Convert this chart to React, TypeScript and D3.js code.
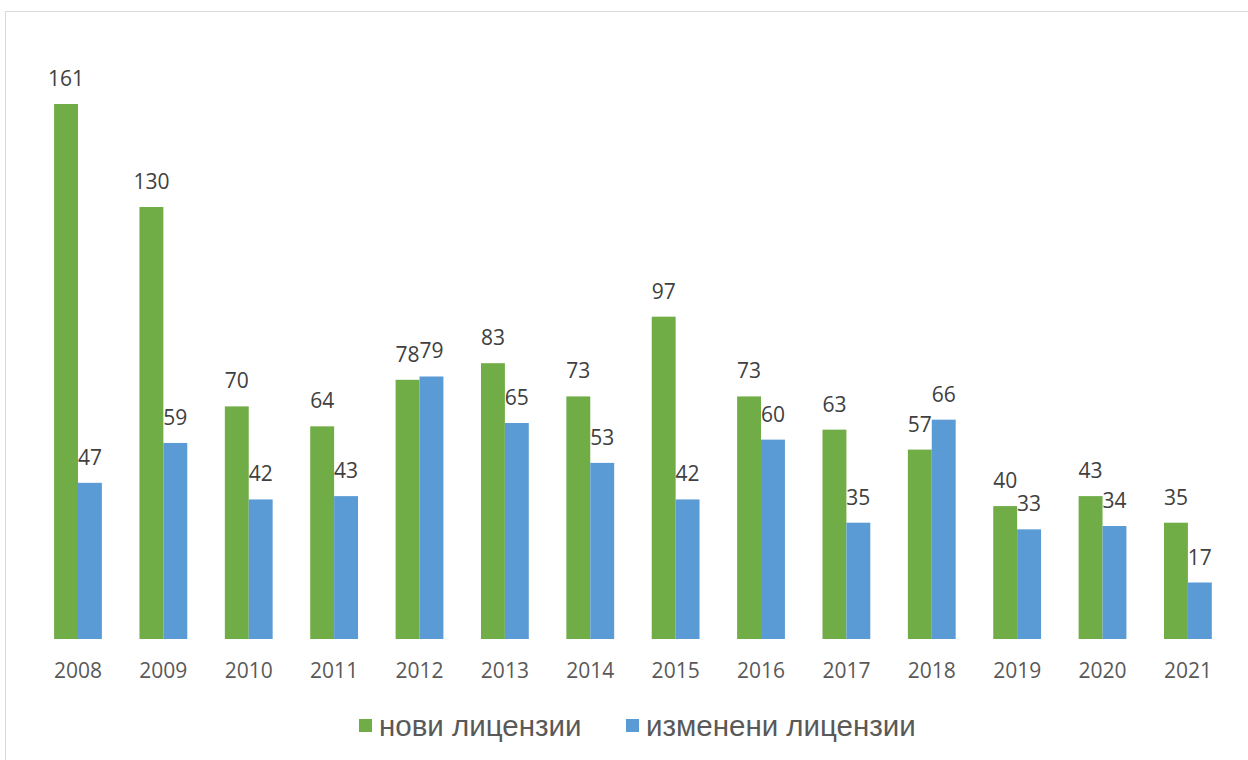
import { useEffect, useRef } from 'react';
import * as d3 from 'd3';

const years = ['2008', '2009', '2010', '2011', '2012', '2013', '2014', '2015', '2016', '2017', '2018', '2019', '2020', '2021'];
const newLicenses = [161, 130, 70, 64, 78, 83, 73, 97, 73, 63, 57, 40, 43, 35];
const changedLicenses = [47, 59, 42, 43, 79, 65, 53, 42, 60, 35, 66, 33, 34, 17];
const seriesNames = ['нови лицензии', 'изменени лицензии'];
const seriesColors = ['#70AD47', '#5B9BD5'];

const App = () => {
  const svgRef = useRef<SVGSVGElement>(null);

  useEffect(() => {
    const svg = d3.select(svgRef.current);
    svg.selectAll('*').remove(); // clear before redraw

    const width = 1248;
    const height = 760;

    // chart frame, only top and left edges fall inside the picture
    svg.append('rect')
      .attr('x', 5.5)
      .attr('y', 11.5)
      .attr('width', 1270)
      .attr('height', 800)
      .attr('fill', 'white')
      .attr('stroke', '#d9d9d9')
      .attr('stroke-width', 1);

    const x0 = d3.scaleBand()
      .domain(years)
      .range([35.3, 1230.6])
      .paddingInner(0.44)
      .paddingOuter(0.22);

    const x1 = d3.scaleBand()
      .domain(['0', '1'])
      .range([0, x0.bandwidth()]);

    const y = d3.scaleLinear()
      .domain([0, 161])
      .range([639, 104]);

    const series = [newLicenses, changedLicenses];

    series.forEach((values, si) => {
      const g = svg.append('g');
      g.selectAll('rect')
        .data(values)
        .join('rect')
        .attr('x', (d, i) => (x0(years[i]) ?? 0) + (x1(String(si)) ?? 0))
        .attr('y', d => y(d))
        .attr('width', x1.bandwidth())
        .attr('height', d => y(0) - y(d))
        .attr('fill', seriesColors[si]);

      g.selectAll('text')
        .data(values)
        .join('text')
        .attr('x', (d, i) => (x0(years[i]) ?? 0) + (x1(String(si)) ?? 0) + x1.bandwidth() / 2)
        .attr('y', d => y(d) - 18)
        .attr('text-anchor', 'middle')
        .attr('font-family', 'Open Sans')
        .attr('font-size', 21)
        .attr('fill', '#404040')
        .text(d => d);
    });

    // category axis, no line or ticks
    const xAxis = svg.append('g')
      .attr('transform', `translate(0,${y(0)})`)
      .call(d3.axisBottom(x0).tickSize(0).tickPadding(24));
    xAxis.select('.domain').remove();
    xAxis.selectAll('text')
      .attr('font-family', 'Open Sans')
      .attr('font-size', 21)
      .attr('fill', '#595959');

    // legend
    const legend = svg.append('g').attr('transform', `translate(0,727)`);
    const legendX = [359, 626];
    seriesNames.forEach((name, i) => {
      legend.append('rect')
        .attr('x', legendX[i])
        .attr('y', -8)
        .attr('width', 13)
        .attr('height', 13)
        .attr('fill', seriesColors[i]);
      legend.append('text')
        .attr('x', legendX[i] + 20)
        .attr('y', 9)
        .attr('font-family', 'Liberation Sans')
        .attr('font-size', 29.5)
        .attr('fill', '#595959')
        .text(name);
    });

    svg.attr('viewBox', `0 0 ${width} ${height}`);
  }, []);

  return (
    <div style={{ position: 'fixed', left: 0, top: 0 }}>
      <svg ref={svgRef} width={1248} height={760}></svg>
    </div>
  );
};

export default App;
